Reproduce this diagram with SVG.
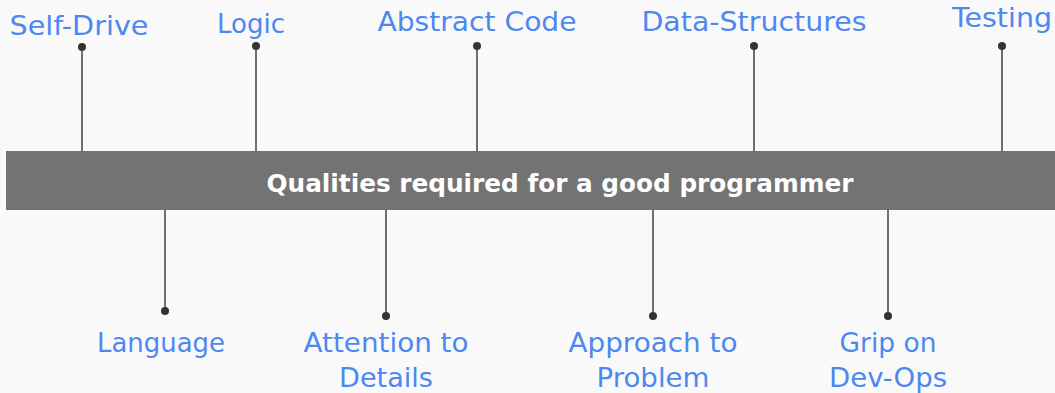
<svg xmlns="http://www.w3.org/2000/svg" width="1055" height="393" viewBox="0 0 1055 393">
<style>
.lbl{font-family:"DejaVu Sans","Liberation Sans",sans-serif;font-size:27px;fill:#4d88f0;text-anchor:middle}
.title{font-family:"DejaVu Sans","Liberation Sans",sans-serif;font-size:25px;font-weight:bold;fill:#ffffff;text-anchor:middle}
.ln{stroke:#6f6f6f;stroke-width:2;fill:none}
.dot{fill:#333333}
</style>
<rect width="1055" height="393" fill="#f9f9fa"/>
<g id="connectors">
<line class="ln" x1="82" y1="47" x2="82" y2="151"/>
<line class="ln" x1="256" y1="46" x2="256" y2="151"/>
<line class="ln" x1="477" y1="46" x2="477" y2="151"/>
<line class="ln" x1="754" y1="46" x2="754" y2="151"/>
<line class="ln" x1="1002" y1="46" x2="1002" y2="151"/>
<line class="ln" x1="165" y1="210" x2="165" y2="311"/>
<line class="ln" x1="386" y1="210" x2="386" y2="316"/>
<line class="ln" x1="653" y1="210" x2="653" y2="316"/>
<line class="ln" x1="888" y1="210" x2="888" y2="316"/>
<circle class="dot" cx="82" cy="47" r="4"/>
<circle class="dot" cx="256" cy="46" r="4"/>
<circle class="dot" cx="477" cy="46" r="4"/>
<circle class="dot" cx="754" cy="46" r="4"/>
<circle class="dot" cx="1002" cy="46" r="4"/>
<circle class="dot" cx="165" cy="311" r="4"/>
<circle class="dot" cx="386" cy="316" r="4"/>
<circle class="dot" cx="653" cy="316" r="4"/>
<circle class="dot" cx="888" cy="316" r="4"/>
</g>
<g id="bar">
<rect x="6" y="151" width="1049" height="59" fill="#737373"/>
<text class="title" x="560" y="192" textLength="587" lengthAdjust="spacingAndGlyphs">Qualities required for a good programmer</text>
</g>
<g id="self-drive"><text class="lbl" x="79" y="35" textLength="139" lengthAdjust="spacingAndGlyphs">Self-Drive</text></g>
<g id="logic"><text class="lbl" x="251" y="33" textLength="68" lengthAdjust="spacingAndGlyphs">Logic</text></g>
<g id="abstract-code"><text class="lbl" x="477" y="31" textLength="199" lengthAdjust="spacingAndGlyphs">Abstract Code</text></g>
<g id="data-structures"><text class="lbl" x="754" y="31" textLength="225" lengthAdjust="spacingAndGlyphs">Data-Structures</text></g>
<g id="testing"><text class="lbl" x="1002" y="27" textLength="100" lengthAdjust="spacingAndGlyphs">Testing</text></g>
<g id="language"><text class="lbl" x="161" y="352" textLength="128" lengthAdjust="spacingAndGlyphs">Language</text></g>
<g id="attention"><text class="lbl" x="386" y="352" textLength="165" lengthAdjust="spacingAndGlyphs">Attention to</text><text class="lbl" x="386" y="387" textLength="94" lengthAdjust="spacingAndGlyphs">Details</text></g>
<g id="approach"><text class="lbl" x="653" y="352" textLength="169" lengthAdjust="spacingAndGlyphs">Approach to</text><text class="lbl" x="653" y="387" textLength="113" lengthAdjust="spacingAndGlyphs">Problem</text></g>
<g id="grip"><text class="lbl" x="888" y="352" textLength="97" lengthAdjust="spacingAndGlyphs">Grip on</text><text class="lbl" x="888" y="387" textLength="118" lengthAdjust="spacingAndGlyphs">Dev-Ops</text></g>
</svg>
